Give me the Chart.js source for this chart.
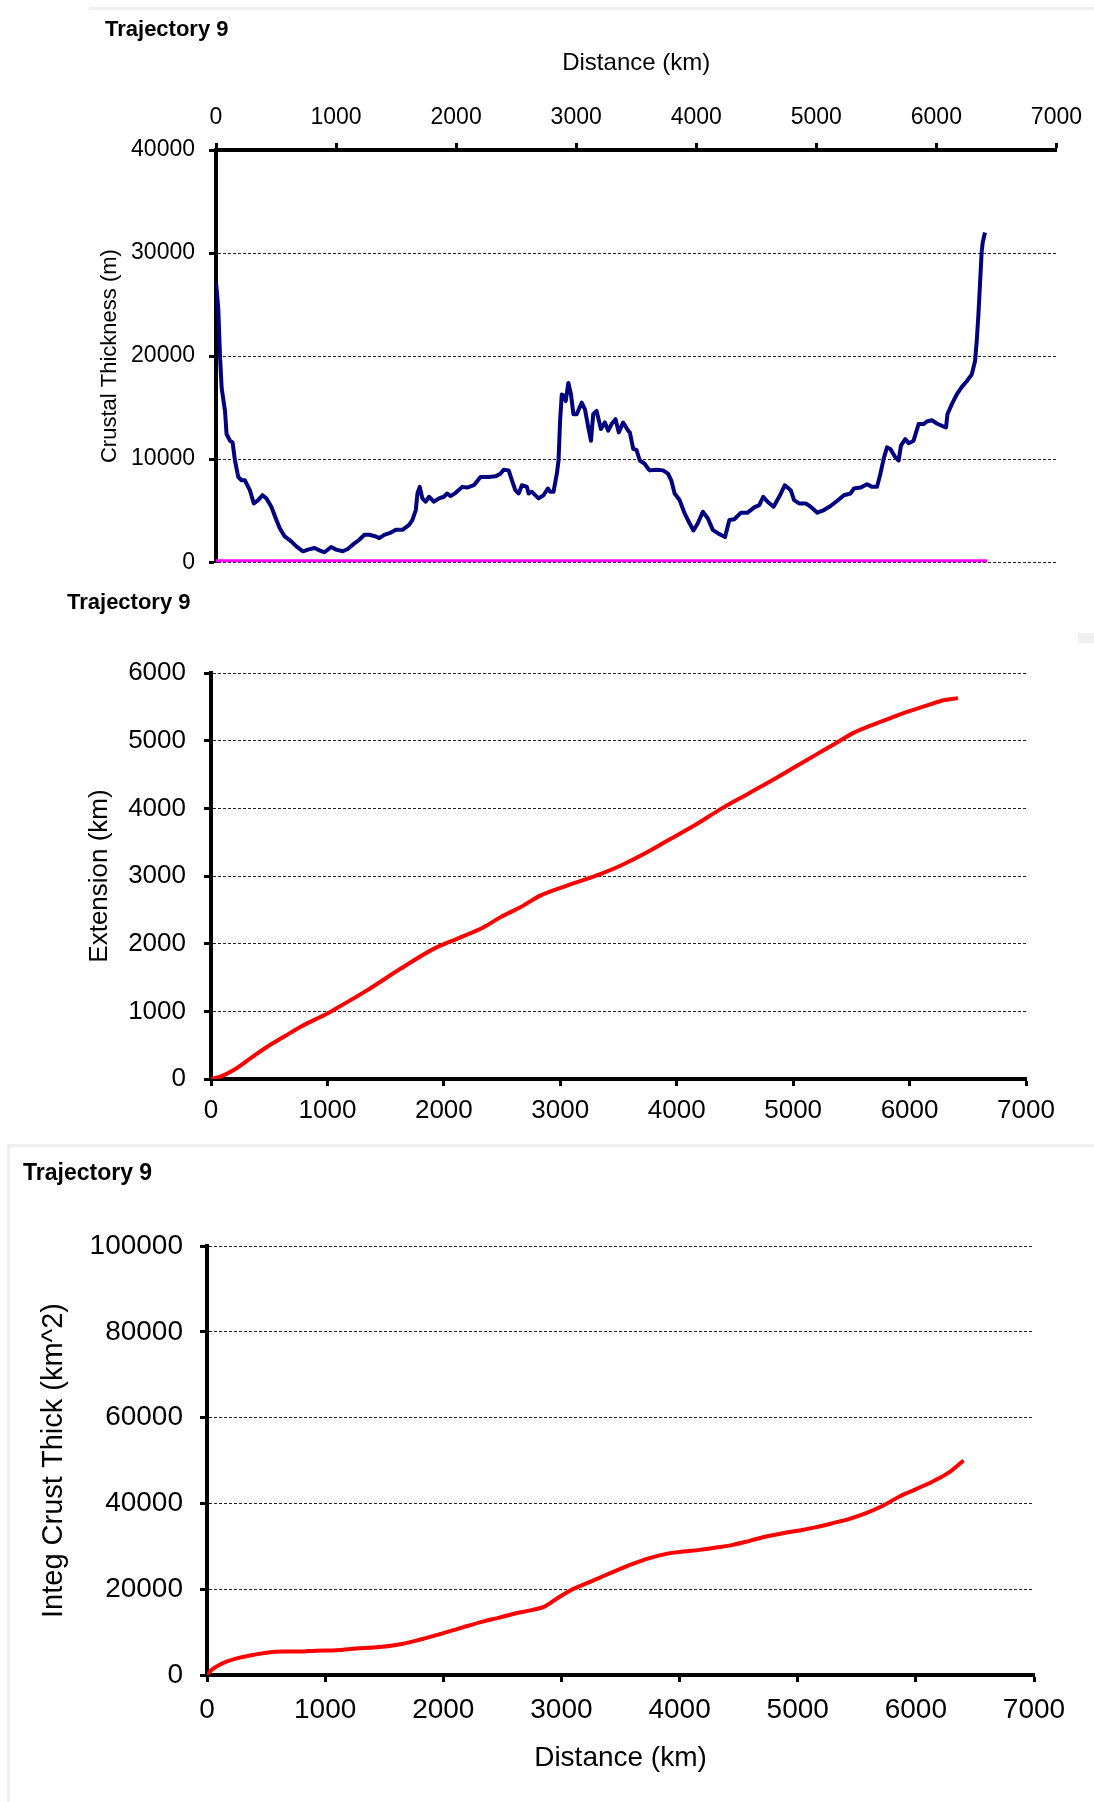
<!DOCTYPE html>
<html>
<head>
<meta charset="utf-8">
<title>Trajectory 9</title>
<script src="https://cdn.jsdelivr.net/npm/chart.js@4.4.1/dist/chart.umd.min.js"></script>
<style>
  html, body { margin: 0; padding: 0; background: #fff; }
  body { width: 1094px; height: 1802px; position: relative; overflow: hidden;
         font-family: "Liberation Sans", Arial, sans-serif; }
  canvas { position: absolute; left: 0; }
  .tag { position: absolute; font-weight: bold; color: #000; white-space: nowrap; line-height: 1; }
  .rule { position: absolute; background: #efefef; }
</style>
</head>
<body>
<canvas id="thick" width="1094" height="590" style="top:0"></canvas>
<canvas id="ext" width="1094" height="560" style="top:580px"></canvas>
<canvas id="integ" width="1094" height="652" style="top:1150px"></canvas>

<div class="rule" style="left:89px;top:7px;width:1005px;height:3px"></div>
<div class="rule" style="left:1078px;top:633px;width:16px;height:10px"></div>
<div class="rule" style="left:7px;top:1144px;width:1087px;height:3px"></div>
<div class="rule" style="left:7px;top:1144px;width:3px;height:658px"></div>

<div class="tag" style="left:105px;top:18px;font-size:22px">Trajectory 9</div>
<div class="tag" style="left:67px;top:591px;font-size:22px">Trajectory 9</div>
<div class="tag" style="left:23px;top:1161px;font-size:23px">Trajectory 9</div>

<script>
// ---- Crustal thickness along the trajectory (m) ----
const crustDist = [0,19,33,47,75,88,116,138,158,185,213,240,282,315,351,387,420,461,503,531,572,627,669,724,766,821,862,904,959,1000,1056,1097,1139,1194,1236,1277,1332,1360,1401,1457,1498,1553,1609,1636,1664,1678,1697,1719,1747,1774,1816,1857,1899,1926,1954,1996,2051,2092,2148,2203,2272,2327,2369,2396,2438,2465,2493,2521,2548,2590,2604,2631,2687,2728,2764,2784,2811,2839,2853,2866,2880,2902,2913,2935,2957,2977,3004,3046,3073,3101,3123,3142,3170,3206,3239,3267,3295,3328,3355,3391,3433,
  3447,3475,3502,3530,3571,3599,3613,3668,3723,3765,3792,3820,3861,3903,3944,3977,4013,4055,4096,4138,4179,4240,4276,4317,4373,4428,4483,4525,4558,4594,4644,4691,4738,4787,4815,4857,4912,4953,5009,5064,5119,5175,5230,5285,5313,5368,5423,5465,5506,5534,5561,5589,5617,5658,5686,5705,5741,5769,5810,5852,5893,5921,5962,6004,6045,6081,6092,6128,6170,6211,6253,6294,6322,6336,6350,6363,6377,6386,6405];
const crustThick = [27180,24600,20130,16920,14680,12440,11790,11630,9870,8270,7950,7950,6990,5700,6030,6500,6190,5380,4100,3300,2500,2020,1540,1060,1220,1380,1150,960,1470,1220,1060,1280,1700,2180,2660,2660,2500,2340,2660,2880,3140,3140,3620,4100,5060,6670,7310,6190,5870,6350,5870,6190,6350,6670,6410,6730,7310,7240,7470,8270,8270,8330,8590,8970,8910,7950,6990,6670,7470,7310,6670,6830,6190,6500,7150,6830,6830,8590,9870,13720,16280,16120,15640,17400,16280,14360,14360,15480,14840,13080,11790,14360,14680,12920,13560,12760,13400,13880,12600,13560,12760,
  12600,11000,10900,9870,9550,9070,8910,8970,8910,8590,7950,6670,6030,4740,3780,3080,3780,4900,4260,3140,2820,2440,4100,4170,4810,4810,5320,5540,6350,5870,5380,6350,7470,6990,6030,5700,5700,5380,4810,5060,5450,5960,6500,6670,7150,7240,7560,7310,7310,8590,10030,11150,10990,10190,9870,11310,11950,11540,11790,13400,13400,13650,13780,13460,13240,13080,14360,15320,16280,16990,17560,18200,19490,21410,23970,26860,30060,31020,31990];

// thin-crust reference line just above zero
const baseDist = [0, 6425];
const baseVal = [150, 150];

// ---- Cumulative extension (km) ----
const extDist = [0,80,195,338,483,626,770,999,1100,1343,1630,1916,2117,2346,2489,2661,2833,3063,3349,3521,3721,3922,4151,4380,4610,4839,5011,5183,5355,5527,5642,5814,5986,6157,6301,6416];
const extVal = [0,34,133,305,477,624,772,969,1067,1313,1632,1927,2075,2247,2394,2542,2714,2861,3033,3156,3328,3525,3746,3992,4213,4434,4607,4779,4951,5123,5207,5320,5428,5526,5600,5629];

// ---- Integrated crustal thickness (km^2) ----
const integDist = [0,37,79,164,277,390,502,643,784,925,1094,1263,1432,1601,1771,1968,2165,2334,2475,2616,2757,2856,2954,3067,3180,3321,3463,3604,3745,3887,4028,4169,4310,4451,4592,4733,4874,5015,5156,5297,5438,5579,5720,5861,6002,6143,6284,6403];
const integVal = [0,1170,1950,3110,4050,4670,5210,5450,5450,5680,5760,6150,6460,7000,8010,9490,11120,12450,13380,14390,15170,15950,17660,19600,21000,22640,24350,25900,27230,28240,28780,29170,29720,30340,31270,32280,33060,33680,34460,35400,36410,37730,39440,41620,43330,45120,47300,50020];

// ---- Tick labels ----
const distTicks = [0,1000,2000,3000,4000,5000,6000,7000];
const thickTicks = [0,10000,20000,30000,40000];
const extTicks = [0,1000,2000,3000,4000,5000,6000];
const integTicks = [0,20000,40000,60000,80000,100000];

const FONT = '"Liberation Sans", Arial, sans-serif';
Chart.defaults.font.family = FONT;
Chart.defaults.color = '#000';

const pairs = (xs, ys) => xs.map((x, i) => ({ x: x, y: ys[i] }));
const useTicks = arr => scale => { scale.ticks = arr.map(v => ({ value: v })); };
const plain = v => String(v);

function xAxis(o) {
  return {
    type: 'linear', position: o.position, min: 0, max: 7000,
    afterBuildTicks: useTicks(distTicks),
    ticks: { font: { size: o.tickSize }, padding: o.tickPad, callback: plain,
             maxRotation: 0, autoSkip: false },
    grid: { drawOnChartArea: false, tickLength: 7, tickWidth: 3, tickColor: '#000' },
    border: { color: '#000', width: 4 },
    title: o.title ? { display: true, text: o.title, font: { size: o.titleSize },
                       padding: o.titlePad } : { display: false },
    afterFit: s => { s.height = o.height; }
  };
}

function yAxis(o) {
  return {
    type: 'linear', min: 0, max: o.max,
    afterBuildTicks: useTicks(o.ticks),
    ticks: { font: { size: o.tickSize }, padding: o.tickPad, callback: plain, autoSkip: false },
    grid: { color: '#222', lineWidth: 1, tickLength: 7, tickWidth: 3, tickColor: '#000' },
    border: { color: '#000', width: 4, dash: [3, 2] },
    title: { display: true, text: o.title, font: { size: o.titleSize },
             padding: { top: o.titlePad, bottom: 0 } },
    afterFit: s => { s.width = o.width; }
  };
}

const common = {
  responsive: false, animation: false, devicePixelRatio: 1,
  plugins: { legend: { display: false }, tooltip: { enabled: false } },
  elements: { point: { radius: 0 } }
};

// Crustal thickness, distance axis along the top
new Chart(document.getElementById('thick'), {
  type: 'line',
  data: { datasets: [
    { data: pairs(baseDist, baseVal), borderColor: '#ff00ff', borderWidth: 3, pointRadius: 0,
      tension: 0, clip: false },
    { data: pairs(crustDist, crustThick), borderColor: '#000080', borderWidth: 4, pointRadius: 0,
      tension: 0, borderJoinStyle: 'round' }
  ]},
  options: Object.assign({}, common, {
    layout: { padding: { left: 0, right: 34, top: 0, bottom: 24 } },
    scales: {
      x: xAxis({ position: 'top', tickSize: 23, tickPad: 12, height: 150,
                 title: 'Distance (km)', titleSize: 24, titlePad: { top: 49, bottom: 0 } }),
      y: yAxis({ max: 40000, ticks: thickTicks, tickSize: 23, tickPad: 14, width: 216,
                 title: 'Crustal Thickness (m)', titleSize: 22, titlePad: 97 })
    }
  })
});

// Extension
new Chart(document.getElementById('ext'), {
  type: 'line',
  data: { datasets: [
    { data: pairs(extDist, extVal), borderColor: '#ff0000', borderWidth: 4, pointRadius: 0,
      cubicInterpolationMode: 'monotone' }
  ]},
  options: Object.assign({}, common, {
    layout: { padding: { left: 0, right: 68, top: 93, bottom: 0 } },
    scales: {
      x: xAxis({ position: 'bottom', tickSize: 26, tickPad: 9, height: 61 }),
      y: yAxis({ max: 6000, ticks: extTicks, tickSize: 26, tickPad: 18, width: 211,
                 title: 'Extension (km)', titleSize: 26, titlePad: 84 })
    }
  })
});

// Integrated crustal thickness
new Chart(document.getElementById('integ'), {
  type: 'line',
  data: { datasets: [
    { data: pairs(integDist, integVal), borderColor: '#ff0000', borderWidth: 4, pointRadius: 0,
      cubicInterpolationMode: 'monotone' }
  ]},
  options: Object.assign({}, common, {
    layout: { padding: { left: 0, right: 60, top: 96, bottom: 0 } },
    scales: {
      x: xAxis({ position: 'bottom', tickSize: 28, tickPad: 11, height: 127,
                 title: 'Distance (km)', titleSize: 28, titlePad: { top: 0, bottom: 27 } }),
      y: yAxis({ max: 100000, ticks: integTicks, tickSize: 28, tickPad: 17, width: 207,
                 title: 'Integ Crust Thick (km^2)', titleSize: 29, titlePad: 37 })
    }
  })
});
</script>
</body>
</html>
